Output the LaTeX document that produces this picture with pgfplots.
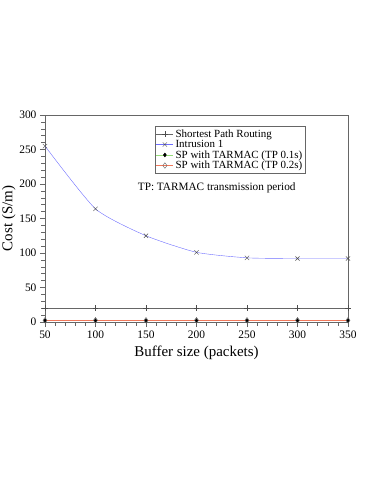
\documentclass[border=0pt]{standalone}
\usepackage{pgfplots}
\pgfplotsset{compat=1.18}
\usepackage{fontspec}
\setmainfont{Liberation Serif}

\definecolor{introblue}{RGB}{110,110,255}
\definecolor{tpgreen}{RGB}{150,220,120}
\definecolor{tpred}{RGB}{240,120,90}

\begin{document}
\begin{tikzpicture}
\begin{axis}[
    at={(0,0)}, anchor=south west,
    scale only axis,
    width=303bp, height=207bp,
    xmin=50, xmax=350,
    ymin=0, ymax=300,
    xtick={50,100,...,350},
    ytick={0,50,...,300},
    minor x tick num=4,
    minor y tick num=4,
    tick align=outside,
    tick pos=left,
    major tick length=5bp,
    minor tick length=3.5bp,
    axis line style={black!60},
    every tick/.style={black!60, line width=0.6pt},
    every minor tick/.style={black!60, line width=0.6pt},
    ticklabel style={font=\fontsize{11.5}{11.5}\selectfont},
    /pgf/number format/assume math mode=true,
    xlabel={Buffer size (packets)},
    ylabel={Cost (S/m)},
    label style={font=\fontsize{15}{15}\selectfont},
    xlabel style={yshift=-1bp},
    ylabel style={yshift=-3bp},
    legend style={at={(0.363,0.945)}, anchor=north west,
        font=\fontsize{11}{11}\selectfont, draw=black!60,
        inner sep=1pt, row sep=-2.5pt, cells={anchor=west}},
    legend cell align=left,
]
\addplot[black!60, mark=+, mark size=3pt, mark options={black!70}] coordinates {
    (50,20) (100,20) (150,20) (200,20) (250,20) (300,20) (350,20)};
\addlegendentry{Shortest Path Routing}
\addplot[introblue, smooth, tension=0.35, mark=x, mark size=3pt, mark options={black!70}] coordinates {
    (50,255) (100,164) (150,125) (200,101) (250,93) (300,92) (350,92)};
\addlegendentry{Intrusion 1}
\addplot[tpgreen, mark=diamond*, mark size=2pt, mark options={black, fill=black}] coordinates {
    (50,2) (100,2) (150,2) (200,2) (250,2) (300,2) (350,2)};
\addlegendentry{SP with TARMAC (TP 0.1s)}
\addplot[tpred, mark=diamond, mark size=2.8pt, mark options={gray!80!black, fill=white}] coordinates {
    (50,2.5) (100,2.5) (150,2.5) (200,2.5) (250,2.5) (300,2.5) (350,2.5)};
\addlegendentry{SP with TARMAC (TP 0.2s)}
\node[font=\fontsize{11.3}{11.3}\selectfont] at (axis cs:220,194) {TP: TARMAC transmission period};
\end{axis}
\pgfresetboundingbox
\path[use as bounding box] (-45bp,-162bp) rectangle (329bp,322bp);
\end{tikzpicture}
\end{document}
